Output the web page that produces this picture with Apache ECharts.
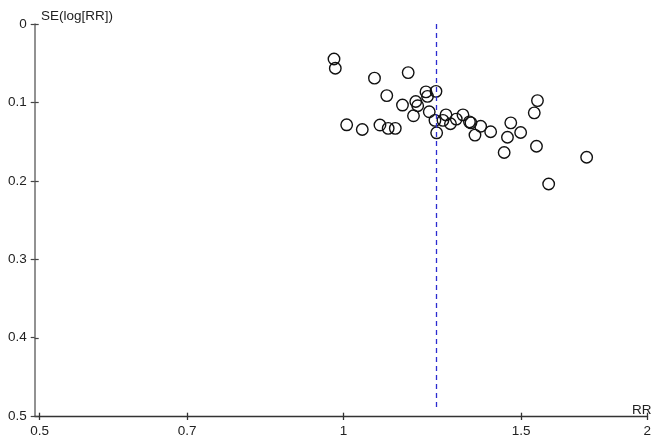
<!DOCTYPE html>
<html>
<head>
<meta charset="utf-8">
<script src="https://cdn.jsdelivr.net/npm/echarts@6/dist/echarts.min.js"></script>
<style>html,body{margin:0;padding:0;background:#fff}#c{width:654px;height:438px}</style>
</head>
<body>
<div id="c"></div>
<script>
// Study risk ratios (RR) and standard errors of log(RR)
const rr = [0.9786, 0.9815, 1.0733, 1.1591, 1.1038, 1.1441, 1.1793, 1.1845, 1.2071, 1.2113,
            1.2350, 1.1732, 1.2162, 1.0073, 1.0438, 1.0868, 1.1074, 1.1255, 1.2321, 1.2369,
            1.2635, 1.2548, 1.2765, 1.2935, 1.3134, 1.3330, 1.3376, 1.3676, 1.3499, 1.3991,
            1.4648, 1.4538, 1.4429, 1.4982, 1.5568, 1.5455, 1.5533, 1.5971, 1.7417];
const se = [0.0446, 0.0564, 0.0691, 0.0620, 0.0913, 0.1034, 0.0989, 0.1042, 0.0866, 0.0923,
            0.0859, 0.1171, 0.1120, 0.1286, 0.1346, 0.1289, 0.1331, 0.1331, 0.1229, 0.1388,
            0.1159, 0.1229, 0.1273, 0.1213, 0.1159, 0.1248, 0.1261, 0.1305, 0.1417, 0.1375,
            0.1261, 0.1445, 0.1639, 0.1384, 0.0977, 0.1133, 0.1560, 0.2041, 0.1700];
const pooledRR = 1.235;
const xTickLabels = ['0.5', '0.7', '1', '1.5', '2'];
const yTickLabels = ['0', '0.1', '0.2', '0.3', '0.4', '0.5'];

const xTickVals = xTickLabels.map(v => Math.log(Number(v)));
const points = rr.map((r, i) => [Math.log(r), se[i]]);
const xMin = Math.log(0.4943), xMax = Math.log(2);
const yMin = Number(yTickLabels[0]), yMax = Number(yTickLabels[yTickLabels.length - 1]);
const font = 'Liberation Sans, Arial, sans-serif';

function xFmt(v) {
  let best = 0;
  xTickVals.forEach((t, i) => { if (Math.abs(t - v) < Math.abs(xTickVals[best] - v)) best = i; });
  return xTickLabels[best];
}

const gridBox = { left: 34.7, right: 6.7, top: 24, bottom: 21.3 };
const chart = echarts.init(document.getElementById('c'), null, { renderer: 'canvas' });
chart.setOption({
  animation: false,
  grid: [Object.assign({}, gridBox), Object.assign({}, gridBox)],
  xAxis: [{
    gridIndex: 0, type: 'value', min: xMin, max: xMax,
    axisLine: { show: true, onZero: false, lineStyle: { color: '#333', width: 1.3 } },
    axisTick: { show: true, length: 4, customValues: xTickVals, lineStyle: { color: '#333', width: 1.3 } },
    axisLabel: { customValues: xTickVals, formatter: xFmt, margin: 8, color: '#222', fontSize: 13.5, fontFamily: font },
    splitLine: { show: false }
  }, {
    gridIndex: 1, type: 'value', min: xMin, max: xMax,
    axisLine: { show: false, onZero: false },
    axisTick: { show: true, inside: true, length: 4, customValues: xTickVals, lineStyle: { color: '#333', width: 1.3 } },
    axisLabel: { show: false },
    splitLine: { show: false }
  }],
  yAxis: [{
    gridIndex: 0, type: 'value', inverse: true, min: yMin, max: yMax, interval: 0.1,
    axisLine: { show: true, onZero: false, lineStyle: { color: '#6e6e6e', width: 1.5 } },
    axisTick: { show: true, length: 4, lineStyle: { color: '#444', width: 1.2 } },
    axisLabel: { margin: 8, color: '#222', fontSize: 13.5, fontFamily: font, padding: [6, 0, 0, 0],
                 formatter: v => yTickLabels[Math.round(v * 10)] },
    splitLine: { show: false }
  }, {
    gridIndex: 1, type: 'value', inverse: true, min: yMin, max: yMax, interval: 0.1,
    axisLine: { show: false, onZero: false },
    axisTick: { show: true, inside: true, length: 4, lineStyle: { color: '#444', width: 1.2 } },
    axisLabel: { show: false },
    splitLine: { show: false }
  }],
  graphic: [
    { type: 'text', left: 41, top: 9, style: { text: 'SE(log[RR])', fontSize: 13.5, fontFamily: font, fill: '#222' } },
    { type: 'text', left: 632, top: 403, style: { text: 'RR', fontSize: 13.5, fontFamily: font, fill: '#222' } }
  ],
  series: [{
    type: 'scatter', xAxisIndex: 0, yAxisIndex: 0,
    data: points,
    symbol: 'circle', symbolSize: 11.5,
    itemStyle: { color: 'rgba(0,0,0,0)', borderColor: '#111', borderWidth: 1.4, opacity: 1 },
    emphasis: { disabled: true },
    markLine: {
      silent: true, symbol: ['none', 'none'], label: { show: false },
      lineStyle: { color: '#2b2bd0', type: [5, 4], width: 1.3 },
      data: [[{ coord: [Math.log(pooledRR), 0] }, { coord: [Math.log(pooledRR), 0.49] }]]
    }
  }]
});
</script>
</body>
</html>
